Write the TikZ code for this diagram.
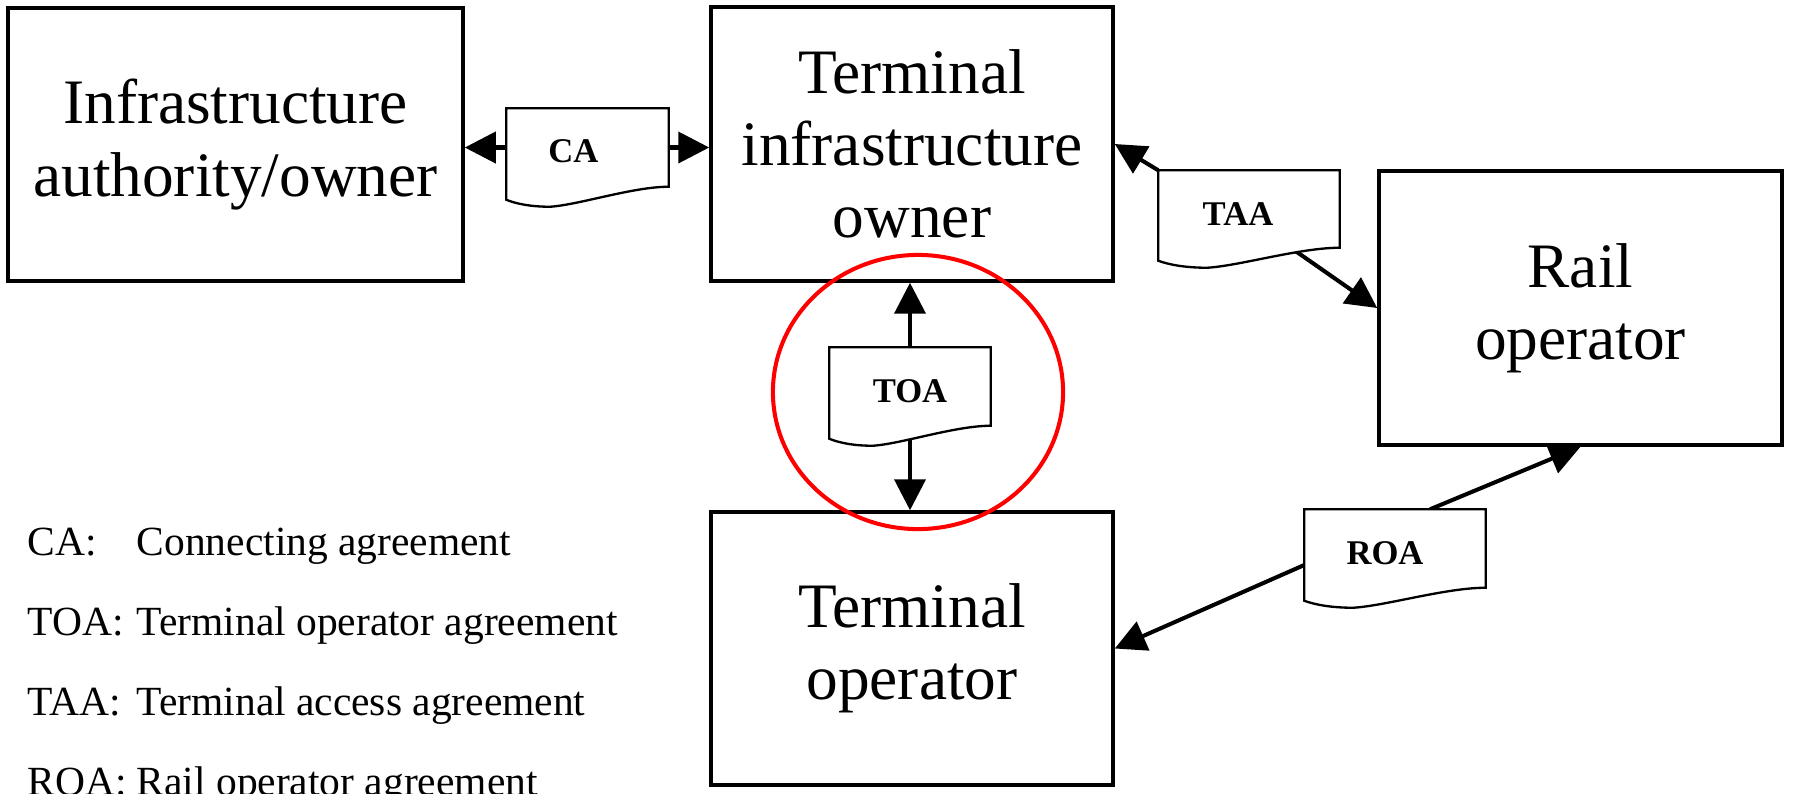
\documentclass[tikz,border=0pt]{standalone}
\usepackage{fontspec}
\setmainfont{Liberation Serif}
\usetikzlibrary{arrows.meta,shapes.geometric,calc}

\newcommand\docshape[1]{%
  \draw[docline] (#1.north west) -- (#1.north east) -- (#1.south east)
    .. controls ($(#1.south west)!0.78!(#1.south east)$) and ($(#1.south west)!0.45!(#1.south east)+(0,-0.18cm)$)
    .. ($(#1.south west)!0.27!(#1.south east)+(0,-0.20cm)$)
    .. controls ($(#1.south west)!0.15!(#1.south east)+(0,-0.20cm)$) and ($(#1.south west)!0.06!(#1.south east)+(0,-0.17cm)$)
    .. ($(#1.south west)+(0,-0.13cm)$) -- cycle;}

\begin{document}
\begin{tikzpicture}[x=0.01cm,y=-0.01cm,
  box/.style={draw, line width=0.95pt, inner sep=0pt, align=center,
    font=\fontsize{18pt}{20.5pt}\selectfont},
  docnode/.style={inner sep=0pt, draw=none},
  docline/.style={line width=0.66pt, fill=white},
  doclabel/.style={inner sep=0pt, font=\bfseries\fontsize{9.85pt}{11pt}\selectfont},
  conn/.style={line width=1.15pt, -{Triangle[length=8.8pt,width=8.8pt]}},
  legend/.style={anchor=base west, inner sep=0pt, font=\fontsize{11.8pt}{14pt}\selectfont},
]
\useasboundingbox (0,0) rectangle (1796,793);

% main boxes
\node[box, minimum width=4.55cm, minimum height=2.73cm] (infra) at (235.5,144.5) {Infrastructure\\authority/owner};
\node[box, minimum width=4.02cm, minimum height=2.74cm] (tio) at (912,144) {Terminal\\infrastructure\\owner};
\node[box, minimum width=4.03cm, minimum height=2.74cm] (rail) at (1580.5,308) {Rail\\operator};
\node[box, minimum width=4.02cm, minimum height=2.73cm] (top) at (912,648.5) {Terminal\\operator};

% document placeholders
\node[docnode, minimum width=1.61cm, minimum height=0.77cm] (ca) at (587.5,147.5) {};
\node[docnode, minimum width=1.80cm, minimum height=0.76cm] (taa) at (1249,209) {};
\node[docnode, minimum width=1.60cm, minimum height=0.77cm] (toa) at (910,386.5) {};
\node[docnode, minimum width=1.80cm, minimum height=0.77cm] (roa) at (1395,548.5) {};

% connectors
\draw[conn] (ca.west) -- (ca.west -| infra.east);
\draw[conn] (ca.east) -- (ca.east -| tio.west);
\draw[conn] (taa.north west) -- (tio.east);
\draw[conn] ($(taa.south west)!0.73!(taa.south east)$) -- (rail.west);
\draw[conn] (toa.north) -- (toa.north |- tio.south);
\draw[conn] (toa.south) -- (toa.south |- top.north);
\draw[conn] ($(roa.north)+(0.35cm,0)$) -- (rail.south);
\draw[conn] ($(roa.west)+(0,-0.165cm)$) -- (top.east);

% document shapes
\docshape{ca}
\docshape{taa}
\docshape{toa}
\docshape{roa}

% document labels
\node[doclabel] (ca-t) at ($(ca.center)+(-0.14cm,-0.04cm)$) {CA};
\node[doclabel] (taa-t) at ($(taa.center)+(-0.11cm,-0.05cm)$) {TAA};
\node[doclabel] (toa-t) at ($(toa.center)+(0,-0.05cm)$) {TOA};
\node[doclabel] (roa-t) at ($(roa.center)+(-0.10cm,-0.05cm)$) {ROA};

% highlight ring
\node[ellipse, draw=red, line width=1.15pt, minimum width=2.9cm, minimum height=2.74cm, inner sep=0pt] (ring) at (918,392) {};

% legend
\node[legend] (l1a) at (27,555) {CA:};
\node[legend] (l1b) at (136,555) {Connecting agreement};
\node[legend] (l2a) at (27,635) {TOA:};
\node[legend] (l2b) at (136,635) {Terminal operator agreement};
\node[legend] (l3a) at (27,715) {TAA:};
\node[legend] (l3b) at (136,715) {Terminal access agreement};
\node[legend] (l4a) at (27,795) {ROA:};
\node[legend] (l4b) at (136,795) {Rail operator agreement};
\end{tikzpicture}
\end{document}
